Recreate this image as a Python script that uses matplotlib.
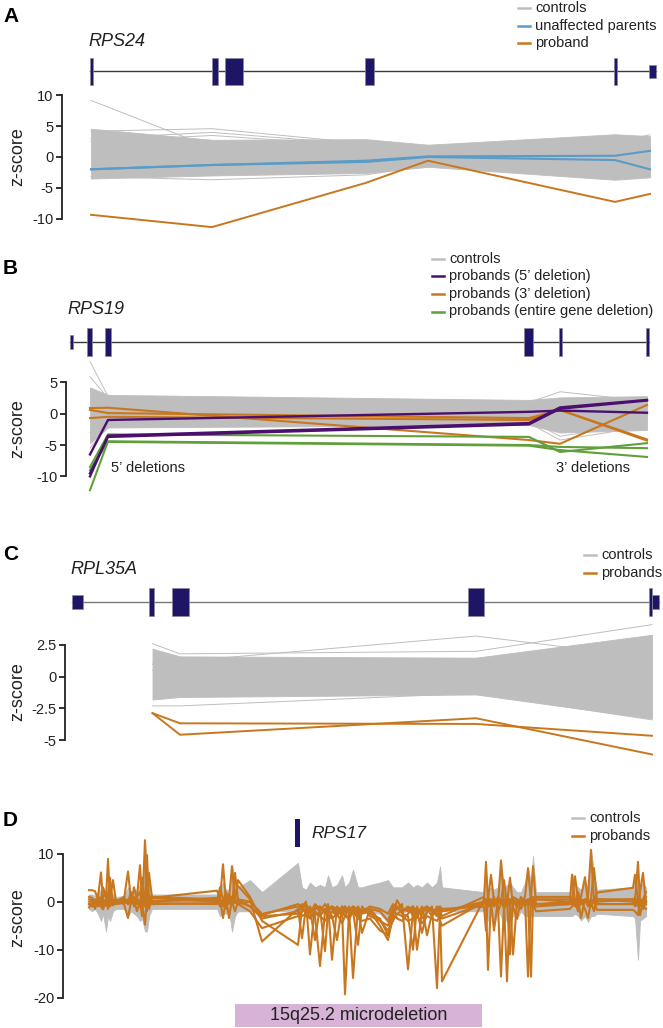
import matplotlib
matplotlib.use("Agg")
import matplotlib.pyplot as plt
from matplotlib.patches import Rectangle
from matplotlib.lines import Line2D

plt.rcParams['font.family'] = ['Liberation Sans', 'DejaVu Sans']
plt.rcParams['axes.unicode_minus'] = False

W, H, DPI = 663, 1028, 100

GREY = '#BEBEBE'
BLUE = '#5B9BC8'
ORANGE = '#C8771E'
PURPLE = '#4B0F6E'
GREEN = '#5FA03A'
NAVY = '#1F1566'
PINK = '#D6B3D7'
INK = '#222222'

# ---------------- Panel A (RPS24) ----------------
a_probe_pos = [0, 121, 275, 337, 524, 559]
a_exon_start = [-1.5, 121, 134, 274, 523, 558]
a_exon_end = [1.5, 127, 152, 283, 526, 565]
a_exon_coding = [True, True, True, True, True, False]
a_ctrl_hi = [4.6, 2.8, 2.9, 2.0, 3.7, 3.4]
a_ctrl_lo = [-3.5, -3.0, -2.6, -1.6, -3.7, -3.3]
a_ctrl_out1 = [9.2, 1.5, 0.5, 0.3, 1.0, 0.5]
a_ctrl_out2 = [4.2, 4.6, 2.2, 1.5, 3.0, 2.8]
a_ctrl_out3 = [3.0, 4.0, 2.0, 1.2, 2.5, 3.6]
a_ctrl_out4 = [2.5, 3.5, 1.8, 1.0, 2.0, 2.0]
a_ctrl_out5 = [-3.2, -3.7, -2.9, -1.4, -3.5, -3.0]
a_parent1 = [-2.0, -1.3, -0.6, 0.1, 0.2, 1.0]
a_parent2 = [-2.0, -1.3, -0.8, 0.0, -0.5, -2.0]
a_proband = [-9.4, -11.4, -4.2, -0.6, -7.3, -6.0]

# ---------------- Panel B (RPS19) ----------------
b_probe_pos = [0, 18, 439, 470, 557]
b_exon_start = [-20, -3, 15, 434, 469, 556]
b_exon_end = [-17, 2, 21, 443, 471.5, 559]
b_exon_coding = [False, True, True, True, True, True]
b_ctrl_hi = [4.2, 3.0, 2.2, 2.6, 2.8]
b_ctrl_lo = [-4.7, -2.2, -1.8, -3.0, -2.6]
b_ctrl_out1 = [8.3, 2.8, 1.5, 1.2, 1.0]
b_ctrl_out2 = [5.9, 2.5, 1.8, 3.5, 2.0]
b_ctrl_out3 = [-5.5, -1.8, -1.5, -4.2, -2.0]
b_ctrl_out4 = [-3.0, -2.0, -1.0, -3.6, -1.5]
b_del5_1 = [-10.0, -3.5, -1.5, 1.0, 2.2]
b_del5_2 = [-9.5, -3.7, -1.7, 0.8, 2.1]
b_del5_3 = [-6.5, -1.0, 0.3, 0.5, 0.15]
b_del3_1 = [0.9, 0.95, -4.2, -4.8, 1.4]
b_del3_2 = [0.6, 0.1, -0.7, 0.6, -4.1]
b_del3_3 = [-0.7, -0.5, -1.0, 0.6, -4.3]
b_whole_1 = [-12.2, -4.4, -5.0, -5.3, -5.5]
b_whole_2 = [-8.5, -3.3, -3.7, -6.1, -4.7]
b_whole_3 = [-9.0, -4.5, -5.1, -5.8, -6.9]

# ---------------- Panel C (RPL35A) ----------------
c_probe_pos = [80.5, 108, 404, 580]
c_exon_start = [0, 77, 100, 396, 577, 580]
c_exon_end = [11, 82, 117, 412, 580, 587]
c_exon_coding = [False, True, True, True, True, False]
c_ctrl_hi = [2.2, 1.6, 1.5, 3.3]
c_ctrl_lo = [-1.8, -1.6, -1.4, -3.3]
c_ctrl_out1 = [2.6, 1.8, 2.0, 4.1]
c_ctrl_out2 = [0.5, 1.2, 3.2, 1.5]
c_ctrl_out3 = [-2.3, -2.3, -1.3, -3.4]
c_ctrl_out4 = [1.0, -1.0, -1.2, -3.0]
c_proband1 = [-2.87, -3.67, -3.72, -4.65]
c_proband2 = [-2.87, -4.57, -3.27, -6.12]

# ---------------- Panel D (15q25.2 region) ----------------
d_pos = [0, 3, 6, 9, 12, 14, 17, 19, 21, 24, 27,
         35, 39, 42, 45, 48, 51, 53, 56, 58, 60, 63,
         128, 131, 134, 137, 140, 143, 146, 149, 161, 173,
         209, 213, 217, 221, 226, 231, 236, 239, 243, 248, 253, 256, 260, 264, 269, 273,
         281, 291, 299, 304, 308, 313, 319, 324, 328, 333, 338, 343, 348, 351, 353,
         395, 397, 399, 402, 405, 409, 412, 415, 418, 421, 424, 428, 432, 436, 439, 442, 444, 447,
         481, 483, 486, 489, 492, 496, 499, 502, 505, 508,
         544, 546, 549, 551, 554, 557]
d_ctrl_hi = [1.5, 1.5, 1.2, 2.0, 2.5, 3.0, 2.0, 3.5, 2.5, 1.5, 1.0,
             1.2, 3.0, 1.5, 2.0, 2.5, 3.5, 3.0, 13.1, 5.0, 3.0, 1.5,
             1.5, 2.0, 4.0, 2.5, 2.5, 7.5, 4.0, 3.0, 4.5, 2.0,
             8.1, 3.0, 2.5, 4.0, 3.0, 3.5, 3.0, 5.5, 3.0, 3.5, 5.5, 3.0, 4.0, 6.7, 3.0, 3.0,
             3.5, 4.0, 4.5, 3.0, 3.0, 3.0, 4.0, 3.0, 3.5, 3.0, 4.0, 3.0, 4.0, 7.3, 3.0,
             2.0, 5.0, 2.5, 3.0, 2.5, 3.0, 8.6, 3.0, 3.5, 4.0, 3.0, 2.0, 2.0, 4.0, 7.0, 4.0, 9.5, 2.0,
             2.0, 6.0, 3.5, 3.0, 2.5, 4.0, 3.0, 10.8, 6.0, 2.5,
             3.0, 5.0, 4.0, 3.5, 4.0, 3.0]
d_ctrl_lo = [-1.5, -2.0, -1.5, -2.5, -4.0, -2.5, -6.2, -3.0, -4.0, -2.0, -1.5,
             -1.5, -3.0, -2.0, -2.5, -3.0, -4.0, -3.5, -6.2, -6.2, -3.0, -1.5,
             -1.5, -3.0, -2.5, -2.5, -2.0, -6.2, -3.0, -2.0, -2.0, -2.0,
             -2.0, -2.0, -1.8, -2.0, -2.0, -2.2, -2.0, -2.0, -2.2, -2.0, -2.0, -2.5, -2.0, -2.0, -2.2, -2.0,
             -2.2, -2.5, -4.4, -2.5, -2.0, -2.2, -2.0, -2.2, -2.0, -2.0, -2.2, -2.0, -2.0, -2.5, -2.0,
             -2.0, -3.0, -4.0, -2.5, -5.0, -2.0, -3.0, -5.0, -3.0, -3.0, -3.0, -3.5, -2.0, -3.0, -3.0, -3.0, -3.0, -3.0,
             -3.0, -3.0, -2.5, -3.0, -3.9, -3.0, -4.2, -3.0, -3.0, -2.5,
             -3.0, -3.5, -12.1, -4.0, -3.5, -3.0]
d_proband1 = [2.4, 2.4, 2.2, 0.5, 1.0, -1.0, 0.5, 8.9, 0.0, 0.5, 0.3,
              0.5, 6.3, 0.5, 1.0, 0.0, -1.0, 5.0, 0.0, 2.0, -1.5, 0.8,
              2.3, 0.5, 7.8, 0.0, 1.0, -0.5, 6.0, 0.5, 0.0, -2.8,
              -0.5, -1.0, 0.0, -11.0, -1.0, -2.0, -0.5, -1.5, -3.0, -8.0, -1.0, -2.0, -1.5, -15.9, -1.0, -2.5,
              -2.0, -5.0, -8.0, -3.0, 0.3, -1.5, -2.0, -1.0, -10.0, -2.0, -1.5, -3.0, -1.0, -2.5, -16.6,
              0.5, 8.3, 0.0, -1.0, 0.5, -0.5, 8.6, 0.0, -16.6, 0.5, 0.0, -0.5, 0.0, 1.0, 7.0, 0.0, 1.0, 0.5,
              0.5, 5.6, 0.0, -1.0, 0.5, 0.0, 1.0, 10.8, 0.0, 1.9,
              2.9, 5.6, 0.5, -2.8, 0.0, 1.0]
d_proband2 = [0.5, 0.3, -0.5, 1.0, 6.1, 0.5, -0.8, 0.0, 5.0, -0.5, 0.2,
              -0.3, 0.0, 2.0, -1.0, 1.0, 7.6, 0.5, -1.0, 9.7, 0.0, 1.0,
              0.5, -1.0, 0.0, 2.0, 0.5, 7.4, 0.0, 4.5, 1.0, -4.0,
              -9.0, -1.5, -2.0, -1.0, -3.0, -13.4, -2.0, -1.0, -1.5, -2.5, -1.5, -19.3, -2.0, -1.0, -3.0, -1.5,
              -2.5, -3.5, -7.0, -2.0, -1.5, -0.5, -14.1, -2.0, -1.5, -2.5, -1.0, -2.0, -3.0, -1.5, -2.0,
              -0.5, 0.0, -14.2, 0.5, -1.0, 1.0, 0.0, 4.5, -0.5, 5.0, -1.0, -3.6, 0.5, -0.5, 0.0, -15.6, 0.5, -1.0,
              -0.5, 0.0, 5.3, 0.5, -3.4, 0.5, -1.0, 0.5, 7.0, 0.0,
              0.5, 0.0, 8.3, 0.0, -1.5, 0.0]
d_proband3 = [-0.5, -1.0, 0.5, -0.8, 0.2, 3.0, 1.0, -1.5, 0.5, 4.5, 0.0,
              1.0, -0.5, 0.2, 0.5, -2.0, 0.0, -3.0, 12.8, 0.5, 1.5, 0.0,
              0.8, 0.0, -1.0, 1.0, -3.4, 0.5, 1.5, 3.3, 0.5, -8.3,
              -1.5, -7.6, -1.0, -2.5, -0.5, -1.5, -10.3, -2.0, -1.0, -1.5, -3.0, -1.0, -2.5, -2.0, -9.0, -1.0,
              -3.0, -4.0, -6.0, -4.0, -2.5, -2.0, -1.0, -3.0, -2.0, -6.5, -2.0, -1.0, -18.0, -2.0, -3.0,
              1.0, -0.5, 0.5, 5.6, 0.0, -1.0, -15.6, -0.5, 1.0, 0.0, -11.0, 0.0, -1.5, 0.5, -15.6, 0.5, 0.0, 1.0,
              1.0, -0.5, 0.5, 0.0, 1.0, 5.1, 0.0, -1.0, 0.5, -0.5,
              -0.5, 1.0, -1.0, 2.0, 6.0, -0.5]
d_proband4 = [1.0, 0.8, 0.0, -1.0, -0.5, 0.8, 2.0, 1.5, -1.0, 0.0, -0.3,
              0.0, 0.5, -0.5, 3.0, 0.5, -0.5, 1.0, 0.5, -2.0, 6.0, 0.8,
              0.0, 3.0, 0.5, -1.5, 1.5, 0.0, -2.0, 0.0, -1.0, -3.0,
              -2.5, -0.5, -3.0, -1.5, -8.0, -1.0, -2.5, -0.5, -12.1, -1.0, -2.0, -3.0, -1.0, -2.5, -1.5, -6.5,
              -1.5, -2.0, -4.0, -1.0, -3.5, -4.0, -2.5, -1.5, -3.0, -1.0, -7.0, -2.5, -2.0, -1.0, -1.5,
              -1.0, -6.0, 1.0, 0.0, -6.0, 0.5, 0.5, -1.5, 0.0, -11.0, 1.0, 0.5, -0.5, 0.0, -0.5, 1.0, 7.4, -0.5,
              0.0, 1.0, -1.0, 2.0, 0.0, -1.5, -3.4, 0.0, -2.0, 0.5,
              0.0, -1.0, 0.5, -1.0, 0.5, 2.0]
d_proband5 = [-1.2, 0.0, -1.5, 0.5, -1.0, -1.6, 0.0, -0.5, 1.0, -0.8, 0.4,
              -0.5, -3.4, 0.0, -0.3, 1.0, 2.0, 0.0, -4.8, 1.0, -0.5, -0.3,
              -0.5, 0.5, -3.4, 0.5, 0.0, 1.0, 0.5, -0.5, -2.0, -5.5,
              -3.0, -2.0, -1.5, -3.5, -2.0, -3.0, -1.5, -4.0, -2.0, -3.0, -1.0, -2.0, -4.0, -1.5, -2.5, -2.0,
              -1.0, -1.5, -2.5, -0.5, -1.0, -2.5, -3.0, -10.0, -1.0, -3.5, -2.0, -1.5, -2.5, -4.0, -5.0,
              0.0, 0.5, -1.0, -0.5, 1.0, -2.0, -0.5, 0.5, -1.0, 0.0, 0.5, -1.0, 1.0, -1.0, 0.5, -1.0, -0.5, -2.0,
              -1.5, -1.0, 0.0, -2.0, 0.5, 0.0, 0.5, -0.5, 0.0, -1.7,
              -1.7, -2.0, -2.8, 0.5, -1.0, -1.5]
d_proband6 = [0.0, 0.5, -0.5, 0.3, -1.0, 0.5, -0.3, 1.0, -0.5, 0.2, 0.0,
              0.2, -0.5, 0.5, -0.2, 0.8, -0.5, 0.3, 1.5, -0.5, 0.0, 0.2,
              0.3, -0.3, 0.5, 0.0, -0.5, 0.8, -0.3, 0.5, -1.0, -3.5,
              -2.0, -3.0, -2.5, -3.5, -2.5, -3.0, -4.0, -3.0, -3.5, -2.5, -4.5, -3.0, -3.5, -2.0, -3.5, -4.0,
              -3.5, -6.0, -7.0, -3.5, -2.5, -3.0, -4.0, -3.5, -3.0, -4.5, -3.0, -3.5, -4.0, -3.0, -3.5,
              -0.5, 0.5, -0.5, 0.0, 0.5, -0.5, 0.5, 0.0, -0.5, 0.5, 0.0, -1.0, 0.5, 0.0, -0.5, 0.5, 0.0, -0.5,
              -0.5, 0.0, 0.5, -0.5, 0.0, 0.5, -0.5, 0.0, 0.5, -0.5,
              -0.5, 0.0, -0.5, 0.5, 0.0, -0.5]
d_proband7 = [-0.5, -0.3, 0.3, -0.5, 0.5, -0.5, 0.3, -0.3, 0.5, -0.3, -0.5,
              -0.3, 0.3, -0.5, 0.5, -0.5, 0.3, -0.5, 0.5, 0.3, -0.5, -0.5,
              -0.3, 0.5, -0.5, 0.3, 0.5, -0.3, 0.3, -0.5, 0.0, -2.5,
              -1.0, -1.5, -0.5, -2.0, -1.5, -1.0, -2.0, -1.5, -1.0, -2.0, -1.5, -1.0, -2.0, -1.0, -1.5, -2.0,
              -1.5, -4.0, -5.0, -1.5, -1.0, -2.0, -1.5, -1.0, -2.0, -1.5, -1.0, -2.0, -1.5, -1.0, -2.0,
              0.0, -0.5, 0.5, -0.5, 0.0, 0.5, -0.5, 0.0, 0.5, -0.5, 0.0, 0.5, -0.5, 0.0, 0.5, -0.5, 0.0, 0.5,
              0.0, -0.5, 0.0, 0.5, -0.5, 0.0, 0.5, -0.5, 0.0, 0.5,
              0.5, -0.5, 0.0, -0.5, 0.5, 0.0]
d_rps17_start, d_rps17_end = 206, 211
d_deletion_start, d_deletion_end = 146, 393

fig = plt.figure(figsize=(W / DPI, H / DPI), dpi=DPI)


def px_axes(left, top, right, bottom):
    return fig.add_axes([left / W, 1 - bottom / H, (right - left) / W, (bottom - top) / H])


def make_data_axes(left, top, bottom, x_off, zero_px, ppu, bounds, ticks, ticklabels):
    ax = px_axes(left, top, W, bottom)
    ax.set_xlim(left - x_off, W - x_off)
    ax.set_ylim((zero_px - bottom) / ppu, (zero_px - top) / ppu)
    ax.patch.set_visible(False)
    for s in ('top', 'right', 'bottom'):
        ax.spines[s].set_visible(False)
    ax.spines['left'].set_bounds(*bounds)
    ax.spines['left'].set_color(INK)
    ax.spines['left'].set_linewidth(1.3)
    ax.set_yticks(ticks)
    ax.set_yticklabels(ticklabels)
    ax.tick_params(axis='y', direction='out', length=4, width=1.3, color=INK,
                   labelsize=10.5, pad=2, labelcolor=INK)
    ax.set_xticks([])
    return ax


def make_gene_axes(left, line_px, x_off):
    ax = px_axes(left, line_px - 16, W, line_px + 16)
    ax.set_xlim(left - x_off, W - x_off)
    ax.set_ylim(-16, 16)
    ax.axis('off')
    return ax


def draw_gene(ax, starts, ends, coding, tall, short, line_color='#3a3a3a'):
    ax.plot([min(starts), max(ends)], [0, 0], color=line_color, lw=1.0, zorder=1)
    for s, e, c in zip(starts, ends, coding):
        h = tall if c else short
        ax.add_patch(Rectangle((s, -h), e - s, 2 * h, facecolor=NAVY,
                               edgecolor='#8a8a9a', lw=0.5, zorder=2))


def legend(x_handle, rows_px, labels, colors):
    for y, lab, col in zip(rows_px, labels, colors):
        fy = 1 - y / H
        fig.add_artist(Line2D([x_handle / W, (x_handle + 12) / W], [fy, fy], color=col, lw=1.8))
        fig.text((x_handle + 17) / W, fy, lab, va='center', ha='left', fontsize=10.5, color=INK)


def panel_letter(y, s):
    fig.text(3 / W, 1 - y / H, s, fontsize=15, fontweight='bold', va='center', ha='left')


def gene_name(x, y, s):
    fig.text(x / W, 1 - y / H, s, fontsize=13, style='italic', va='center', ha='left', color=INK)


def zlabel(y):
    fig.text(18 / W, 1 - y / H, 'z-score', rotation=90, fontsize=13, va='center', ha='center', color=INK)


# ---------------- Panel A ----------------
panel_letter(17, 'A')
gene_name(88, 42, 'RPS24')
legend(518, [8, 26, 43], ['controls', 'unaffected parents', 'proband'], [GREY, BLUE, ORANGE])
gA = make_gene_axes(62, 71, 91)
draw_gene(gA, a_exon_start, a_exon_end, a_exon_coding, 13.5, 6.5)
axA = make_data_axes(62, 82, 240, 91, 157, 6.15, (-10, 10), [-10, -5, 0, 5, 10],
                     ['-10', '-5', '0', '5', '10'])
axA.fill_between(a_probe_pos, a_ctrl_lo, a_ctrl_hi, color=GREY, lw=0.6, zorder=1)
for c in (a_ctrl_out1, a_ctrl_out2, a_ctrl_out3, a_ctrl_out4, a_ctrl_out5):
    axA.plot(a_probe_pos, c, color=GREY, lw=0.7, zorder=1)
for p in (a_parent1, a_parent2):
    axA.plot(a_probe_pos, p, color=BLUE, lw=1.5, zorder=3)
axA.plot(a_probe_pos, a_proband, color=ORANGE, lw=1.4, zorder=3)
zlabel(157)

# ---------------- Panel B ----------------
panel_letter(268, 'B')
gene_name(67, 310, 'RPS19')
legend(432, [259, 276.5, 294, 311.5],
       ['controls', 'probands (5\u2019 deletion)', 'probands (3\u2019 deletion)',
        'probands (entire gene deletion)'],
       [GREY, PURPLE, ORANGE, GREEN])
gB = make_gene_axes(66, 341.7, 90)
draw_gene(gB, b_exon_start, b_exon_end, b_exon_coding, 14, 7)
axB = make_data_axes(66, 352, 500, 90, 413.7, 6.27, (-10, 5), [-10, -5, 0, 5],
                     ['-10', '-5', '0', '5'])
axB.fill_between(b_probe_pos, b_ctrl_lo, b_ctrl_hi, color=GREY, lw=0.6, zorder=1)
for c in (b_ctrl_out1, b_ctrl_out2, b_ctrl_out3, b_ctrl_out4):
    axB.plot(b_probe_pos, c, color=GREY, lw=0.7, zorder=1)
for s in (b_del3_1, b_del3_2, b_del3_3):
    axB.plot(b_probe_pos, s, color=ORANGE, lw=1.5, zorder=3)
for s in (b_whole_1, b_whole_2, b_whole_3):
    axB.plot(b_probe_pos, s, color=GREEN, lw=1.5, zorder=3)
for s in (b_del5_1, b_del5_2, b_del5_3):
    axB.plot(b_probe_pos, s, color=PURPLE, lw=1.7, zorder=4)
fig.text(111 / W, 1 - 468 / H, '5\u2019 deletions', fontsize=10.5, va='center', ha='left', color=INK)
fig.text(556 / W, 1 - 468 / H, '3\u2019 deletions', fontsize=10.5, va='center', ha='left', color=INK)
zlabel(429)

# ---------------- Panel C ----------------
panel_letter(554, 'C')
gene_name(70, 569, 'RPL35A')
legend(584, [555, 573], ['controls', 'probands'], [GREY, ORANGE])
gC = make_gene_axes(65, 601.7, 72)
draw_gene(gC, c_exon_start, c_exon_end, c_exon_coding, 14, 7, line_color='#7a7a7a')
axC = make_data_axes(65, 615, 770, 72, 676.7, 12.7, (-5, 2.5), [-5, -2.5, 0, 2.5],
                     ['-5', '-2.5', '0', '2.5'])
axC.fill_between(c_probe_pos, c_ctrl_lo, c_ctrl_hi, color=GREY, lw=0.6, zorder=1)
for c in (c_ctrl_out1, c_ctrl_out2, c_ctrl_out3, c_ctrl_out4):
    axC.plot(c_probe_pos, c, color=GREY, lw=0.7, zorder=1)
for s in (c_proband1, c_proband2):
    axC.plot(c_probe_pos, s, color=ORANGE, lw=1.4, zorder=3)
zlabel(692)

# ---------------- Panel D ----------------
panel_letter(820, 'D')
legend(572, [818, 836], ['controls', 'probands'], [GREY, ORANGE])
axD = make_data_axes(63, 805, 1028, 89, 901.7, 4.8, (-20, 10), [-20, -10, 0, 10],
                     ['-20', '-10', '0', '10'])
axD.fill_between(d_pos, d_ctrl_lo, d_ctrl_hi, color=GREY, lw=0.6, zorder=1)
for s in (d_proband7, d_proband6, d_proband5, d_proband4, d_proband3, d_proband2, d_proband1):
    axD.plot(d_pos, s, color=ORANGE, lw=1.5, zorder=3)
axD.add_patch(Rectangle((d_rps17_start, 11.4), d_rps17_end - d_rps17_start, 5.8,
                        facecolor=NAVY, edgecolor='none', clip_on=False))
axD.text(d_rps17_end + 11, 14.3, 'RPS17', fontsize=12.5, style='italic', va='center', ha='left', color=INK)
axD.add_patch(Rectangle((d_deletion_start, -26.1), d_deletion_end - d_deletion_start, 4.8,
                        facecolor=PINK, edgecolor='none', clip_on=False))
axD.text((d_deletion_start + d_deletion_end) / 2, -23.7, '15q25.2 microdeletion',
         fontsize=13, va='center', ha='center', color=INK)
zlabel(918)

fig.savefig('out.png', dpi=DPI)
